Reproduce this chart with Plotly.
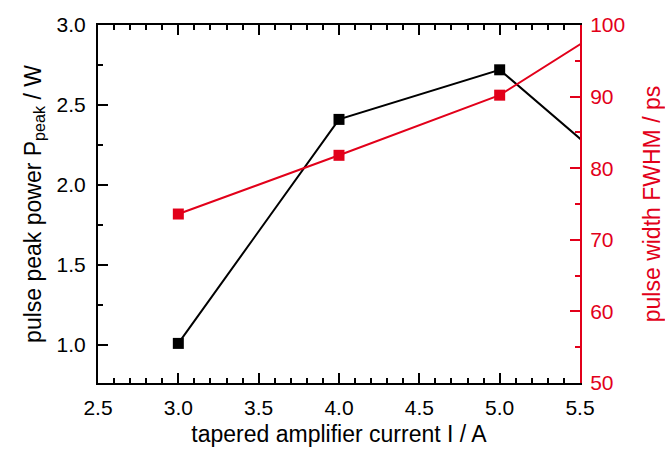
import plotly.graph_objects as go

current = [3.0, 4.0, 5.0, 6.0]
peak_power = [1.01, 2.41, 2.72, 1.86]
pulse_width = [73.6, 81.8, 90.2, 104.4]

RED = "#e2001a"
FONT = "Liberation Sans, Arial, sans-serif"
TICK = 21
TITLE = 23

fig = go.Figure()
fig.add_trace(go.Scatter(x=current, y=peak_power, mode="lines+markers",
                         line=dict(color="black", width=2),
                         marker=dict(symbol="square", size=11, color="black"),
                         showlegend=False))
fig.add_trace(go.Scatter(x=current, y=pulse_width, mode="lines+markers", yaxis="y2",
                         line=dict(color=RED, width=2),
                         marker=dict(symbol="square", size=11, color=RED),
                         showlegend=False))

fig.update_layout(
    width=665, height=457,
    margin=dict(l=98, r=85, t=25, b=74, autoexpand=False),
    plot_bgcolor="white", paper_bgcolor="white",
    font=dict(family=FONT, size=TICK, color="black"),
    xaxis=dict(range=[2.5, 5.5], dtick=0.5, tickformat=".1f", automargin=False,
               showline=True, linecolor="black", linewidth=2, mirror="ticks",
               ticks="inside", ticklen=10, tickwidth=1.5, tickcolor="black",
               minor=dict(dtick=0.1, ticks="inside", ticklen=5, tickwidth=1.5, tickcolor="black"),
               showgrid=False, zeroline=False, tickfont=dict(size=TICK), ticklabelstandoff=5,
               title=dict(text="tapered amplifier current I / A", standoff=8, font=dict(size=TITLE))),
    yaxis=dict(range=[0.7625, 3.0], tick0=1.0, dtick=0.5, tickformat=".1f", automargin=False,
               showline=True, linecolor="black", linewidth=2,
               ticks="inside", ticklen=10, tickwidth=1.5, tickcolor="black",
               minor=dict(tick0=0.75, dtick=0.25, ticks="inside", ticklen=5, tickwidth=1.5, tickcolor="black"),
               showgrid=False, zeroline=False, tickfont=dict(size=TICK), ticklabelstandoff=6,
               title=dict(text="pulse peak power P<sub>peak</sub> / W", standoff=9, font=dict(size=TITLE))),
    yaxis2=dict(range=[50, 100], dtick=10, overlaying="y", side="right", automargin=False,
                showline=True, linecolor=RED, linewidth=2,
                ticks="inside", ticklen=10, tickwidth=1.5, tickcolor=RED,
                minor=dict(dtick=5, ticks="inside", ticklen=5, tickwidth=1.5, tickcolor=RED),
                tickfont=dict(color=RED, size=TICK), showgrid=False, zeroline=False, ticklabelstandoff=4,
                title=dict(text="pulse width FWHM / ps", standoff=20, font=dict(size=TITLE, color=RED))),
)

fig.write_html("out.html", config={"displayModeBar": False},
               post_script="document.body.style.margin='0';")
